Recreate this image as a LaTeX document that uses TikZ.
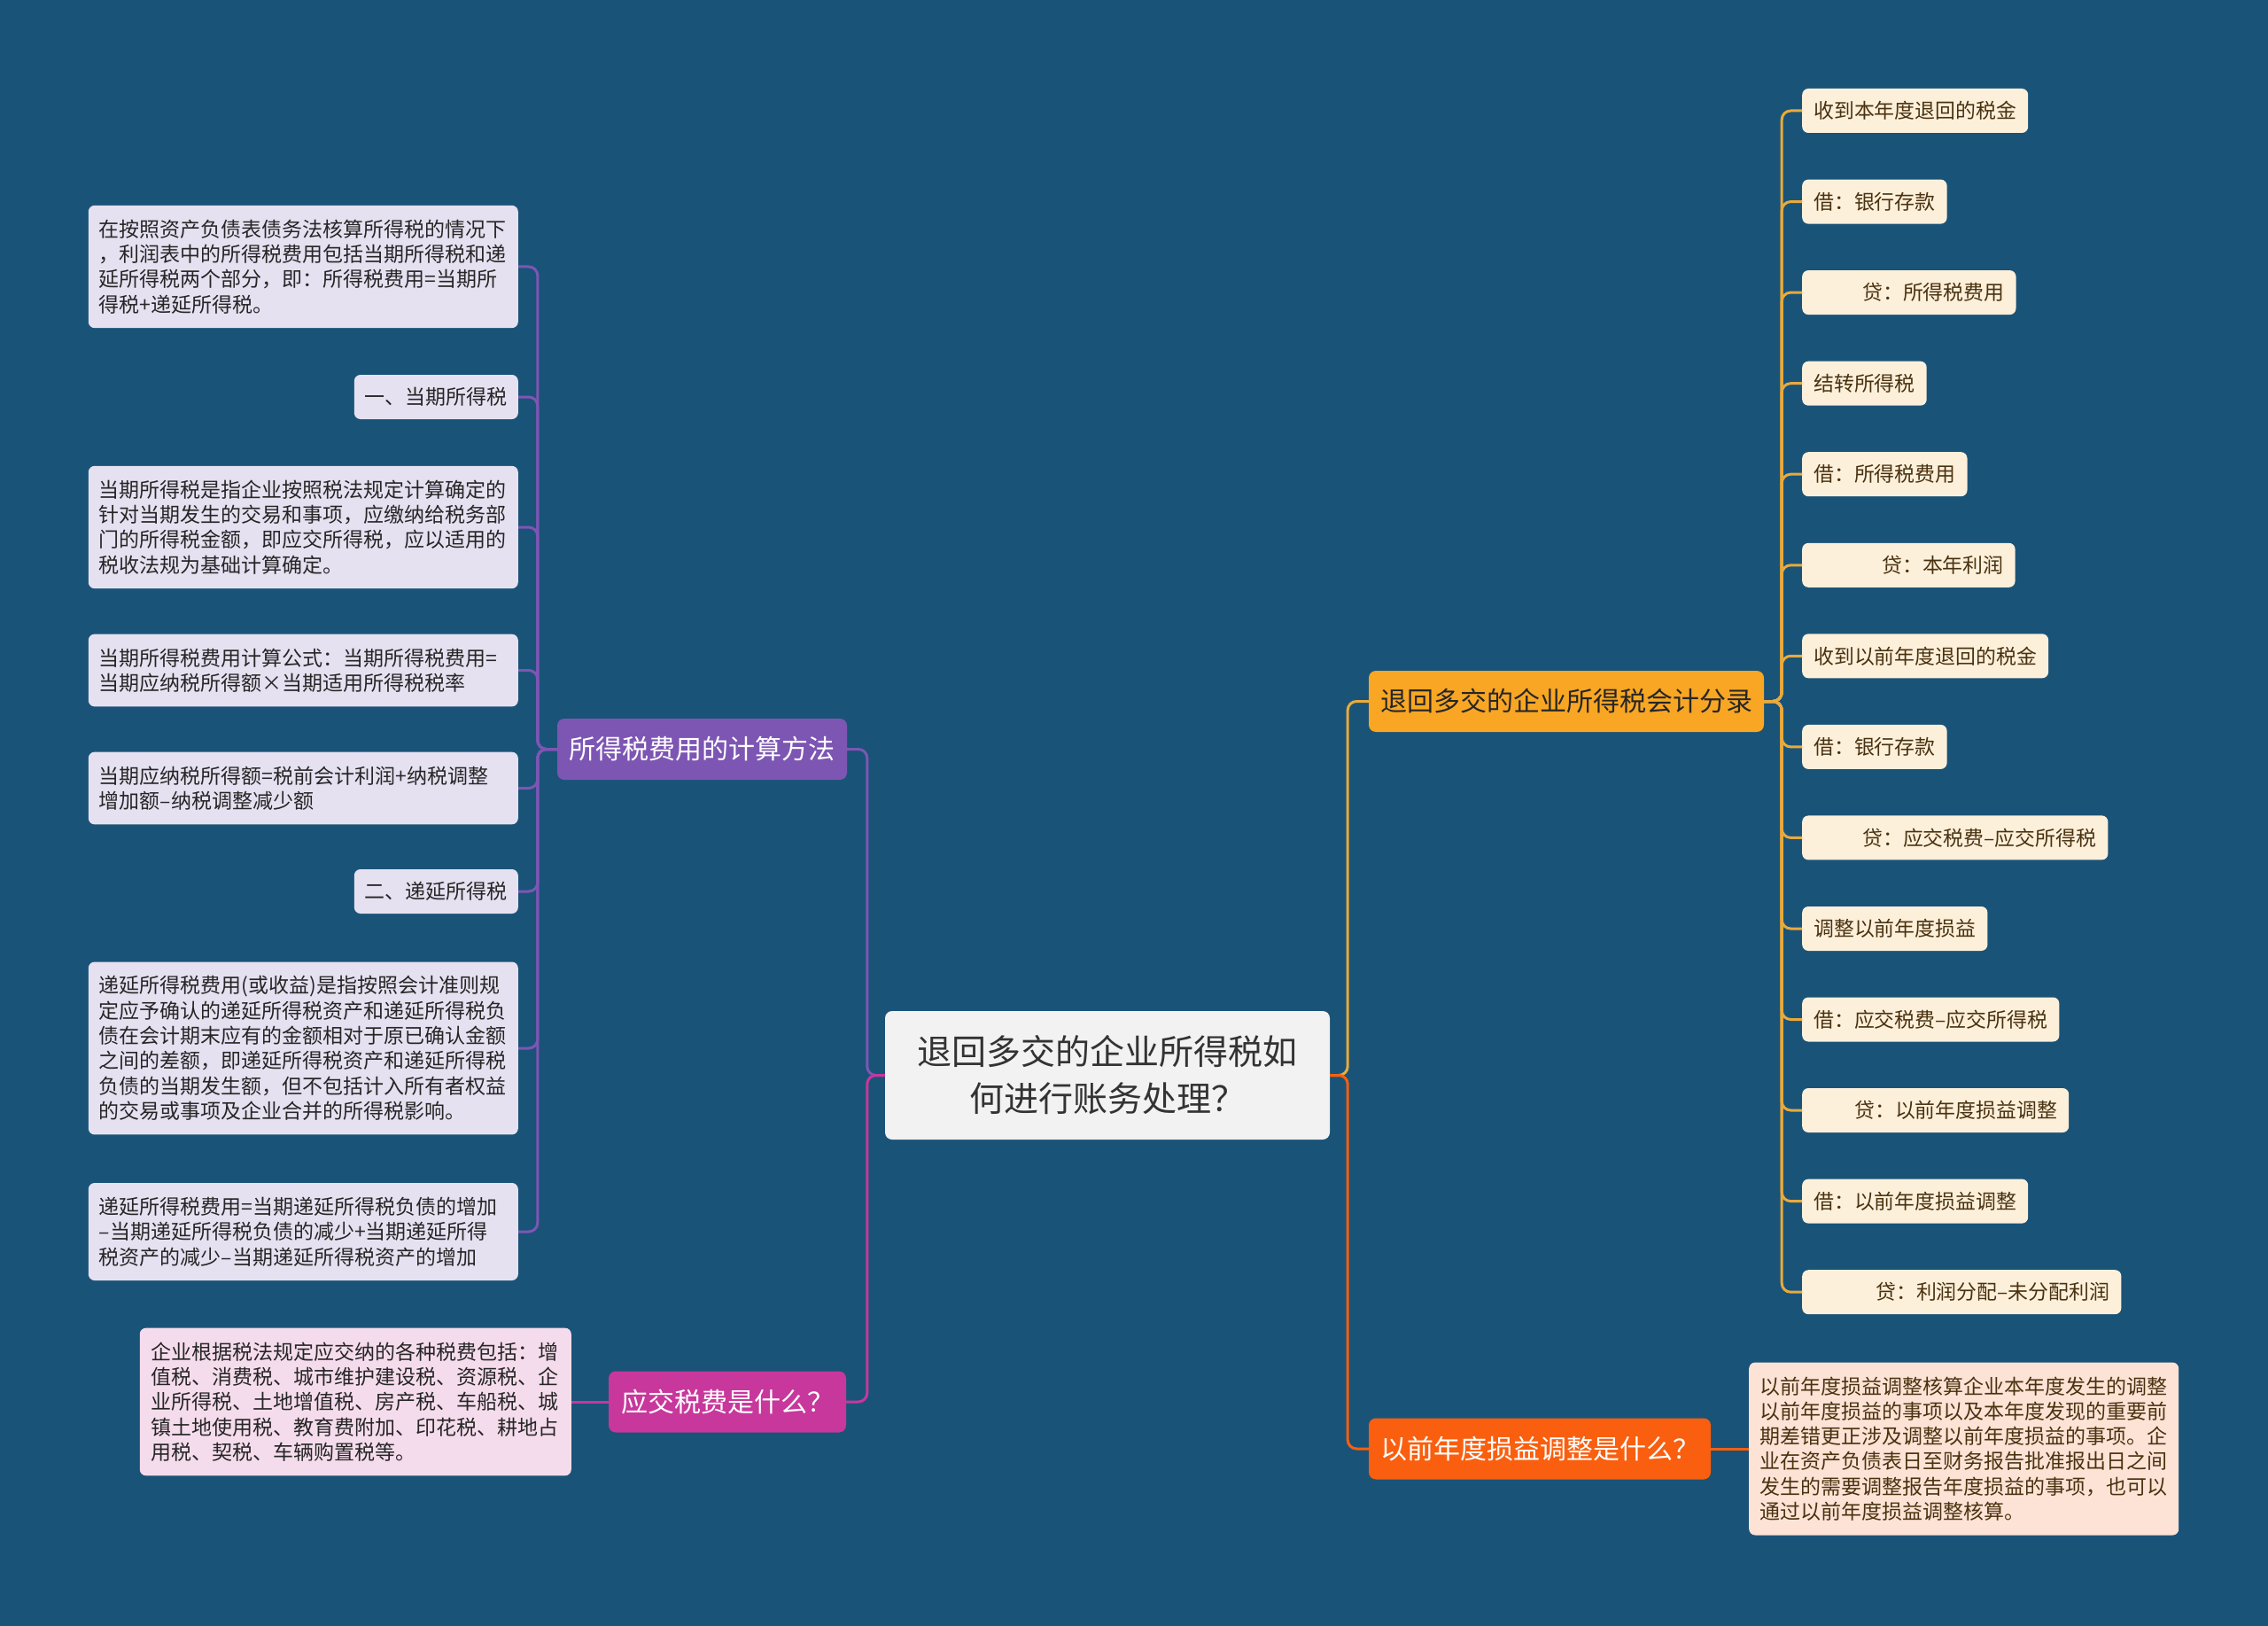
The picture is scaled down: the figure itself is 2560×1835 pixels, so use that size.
\documentclass[tikz,border=0pt]{standalone}
\usepackage{fontspec}
\newfontfamily\cjk{Noto Sans CJK SC}
\usepackage{xcolor}
\usepackage{tikz}
\definecolor{bgblue}{HTML}{1A5378}
\definecolor{rootfill}{HTML}{F2F2F2}
\definecolor{entryfill}{HTML}{F8A623}
\definecolor{adjfill}{HTML}{F95F0F}
\definecolor{calcfill}{HTML}{7D56B4}
\definecolor{taxfill}{HTML}{C8379C}
\definecolor{calcsub}{HTML}{E6E1F1}
\definecolor{taxsub}{HTML}{F5DCEC}
\definecolor{entrysub}{HTML}{FDF0DB}
\definecolor{adjsub}{HTML}{FDE3D6}
\definecolor{entryline}{HTML}{E9AA3C}
\definecolor{darkbrown}{HTML}{4A3210}

\tikzset{
  root/.style={
    fill=rootfill,
    text=black!80,
    rounded corners=8pt,
    minimum width=502pt,
    minimum height=145pt,
    align=center,
    font=\cjk\fontsize{39}{53}\selectfont
  },
  topic/.style={
    rounded corners=8pt,
    minimum height=69pt,
    inner xsep=13pt,
    align=center,
    text=white,
    font=\cjk\fontsize{30}{36}\selectfont
  },
  leaf/.style={
    rounded corners=7pt,
    inner xsep=12pt,
    inner ysep=16pt,
    anchor=east,
    text=black!85,
    font=\cjk\fontsize{23}{28.3}\selectfont
  },
  leafwide/.style={
    leaf,
    text width=461pt,
    align=left
  },
  leafshort/.style={
    leaf,
    minimum height=50pt,
    inner ysep=0pt
  },
  entrybox/.style={
    fill=entrysub,
    rounded corners=7pt,
    minimum height=50pt,
    inner xsep=13pt,
    anchor=west,
    text=darkbrown,
    font=\cjk\fontsize{22.9}{27}\selectfont
  },
  link/.style={
    line width=3pt,
    rounded corners=10pt
  }
}

\begin{document}
\begin{tikzpicture}[x=1pt,y=-1pt]
  \fill[bgblue] (0,0) rectangle (2560,1835);

  % centre and the four topics
  \node[root] (root) at (1250,1213.5) {退回多交的企业所得税如\\何进行账务处理？};
  \node[topic, fill=calcfill, minimum width=327pt] (calc) at (792.5,845.5) {所得税费用的计算方法};
  \node[topic, fill=taxfill, minimum width=268pt] (tax) at (821,1582) {应交税费是什么？};
  \node[topic, fill=entryfill, text=black!85, minimum width=446pt] (entry) at (1768,791.5) {退回多交的企业所得税会计分录};
  \node[topic, fill=adjfill, minimum width=386pt] (adj) at (1738,1635) {以前年度损益调整是什么？};

  % left: calculation
  \node[leafwide, fill=calcsub] (c1) at (585,301) {在按照资产负债表债务法核算所得税的情况下\\，利润表中的所得税费用包括当期所得税和递\\延所得税两个部分，即：所得税费用=当期所\\得税+递延所得税。};
  \node[leafshort, fill=calcsub] (c2) at (585,448) {一、当期所得税};
  \node[leafwide, fill=calcsub] (c3) at (585,595) {当期所得税是指企业按照税法规定计算确定的\\针对当期发生的交易和事项，应缴纳给税务部\\门的所得税金额，即应交所得税，应以适用的\\税收法规为基础计算确定。};
  \node[leafwide, fill=calcsub] (c4) at (585,756.5) {当期所得税费用计算公式：当期所得税费用=\\当期应纳税所得额×当期适用所得税税率};
  \node[leafwide, fill=calcsub] (c5) at (585,889.5) {当期应纳税所得额=税前会计利润+纳税调整\\增加额–纳税调整减少额};
  \node[leafshort, fill=calcsub] (c6) at (585,1006) {二、递延所得税};
  \node[leafwide, fill=calcsub] (c7) at (585,1183) {递延所得税费用(或收益)是指按照会计准则规\\定应予确认的递延所得税资产和递延所得税负\\债在会计期末应有的金额相对于原已确认金额\\之间的差额，即递延所得税资产和递延所得税\\负债的当期发生额，但不包括计入所有者权益\\的交易或事项及企业合并的所得税影响。};
  \node[leafwide, fill=calcsub] (c8) at (585,1390) {递延所得税费用=当期递延所得税负债的增加\\–当期递延所得税负债的减少+当期递延所得\\税资产的减少–当期递延所得税资产的增加};

  % left: taxes payable
  \node[leafwide, fill=taxsub, inner xsep=13pt] (t1) at (645,1582) {企业根据税法规定应交纳的各种税费包括：增\\值税、消费税、城市维护建设税、资源税、企\\业所得税、土地增值税、房产税、车船税、城\\镇土地使用税、教育费附加、印花税、耕地占\\用税、契税、车辆购置税等。};

  % right: journal entries
  \node[entrybox] (e1) at (2034,125) {收到本年度退回的税金};
  \node[entrybox] (e2) at (2034,227.6) {借：银行存款};
  \node[entrybox] (e3) at (2034,330.1) {\hspace*{55pt}贷：所得税费用};
  \node[entrybox] (e4) at (2034,432.7) {结转所得税};
  \node[entrybox] (e5) at (2034,535.2) {借：所得税费用};
  \node[entrybox] (e6) at (2034,637.8) {\hspace*{77pt}贷：本年利润};
  \node[entrybox] (e7) at (2034,740.3) {收到以前年度退回的税金};
  \node[entrybox] (e8) at (2034,842.9) {借：银行存款};
  \node[entrybox] (e9) at (2034,945.4) {\hspace*{55pt}贷：应交税费–应交所得税};
  \node[entrybox] (e10) at (2034,1048) {调整以前年度损益};
  \node[entrybox] (e11) at (2034,1150.5) {借：应交税费–应交所得税};
  \node[entrybox] (e12) at (2034,1253) {\hspace*{46pt}贷：以前年度损益调整};
  \node[entrybox] (e13) at (2034,1355.6) {借：以前年度损益调整};
  \node[entrybox] (e14) at (2034,1458.2) {\hspace*{70pt}贷：利润分配–未分配利润};

  % right: prior-year adjustment
  \node[leafwide, fill=adjsub, anchor=west, text=darkbrown] (a1) at (1974,1635) {以前年度损益调整核算企业本年度发生的调整\\以前年度损益的事项以及本年度发现的重要前\\期差错更正涉及调整以前年度损益的事项。企\\业在资产负债表日至财务报告批准报出日之间\\发生的需要调整报告年度损益的事项，也可以\\通过以前年度损益调整核算。};

  % connectors
  \draw[link, calcfill] (root.west) -- ++(-20,0) |- (calc.east);
  \draw[link, taxfill] (root.west) -- ++(-20,0) |- (tax.east);
  \draw[link, entryline] (root.east) -- ++(20,0) |- (entry.west);
  \draw[link, adjfill] (root.east) -- ++(20,0) |- (adj.west);

  \draw[link, calcfill] (calc.west) -- ++(-22,0) |- (c1.east);
  \draw[link, calcfill] (calc.west) -- ++(-22,0) |- (c2.east);
  \draw[link, calcfill] (calc.west) -- ++(-22,0) |- (c3.east);
  \draw[link, calcfill] (calc.west) -- ++(-22,0) |- (c4.east);
  \draw[link, calcfill] (calc.west) -- ++(-22,0) |- (c5.east);
  \draw[link, calcfill] (calc.west) -- ++(-22,0) |- (c6.east);
  \draw[link, calcfill] (calc.west) -- ++(-22,0) |- (c7.east);
  \draw[link, calcfill] (calc.west) -- ++(-22,0) |- (c8.east);

  \draw[link, taxfill] (tax.west) -- (t1.east);

  \draw[link, entryline] (entry.east) -- ++(20,0) |- (e1.west);
  \draw[link, entryline] (entry.east) -- ++(20,0) |- (e2.west);
  \draw[link, entryline] (entry.east) -- ++(20,0) |- (e3.west);
  \draw[link, entryline] (entry.east) -- ++(20,0) |- (e4.west);
  \draw[link, entryline] (entry.east) -- ++(20,0) |- (e5.west);
  \draw[link, entryline] (entry.east) -- ++(20,0) |- (e6.west);
  \draw[link, entryline] (entry.east) -- ++(20,0) |- (e7.west);
  \draw[link, entryline] (entry.east) -- ++(20,0) |- (e8.west);
  \draw[link, entryline] (entry.east) -- ++(20,0) |- (e9.west);
  \draw[link, entryline] (entry.east) -- ++(20,0) |- (e10.west);
  \draw[link, entryline] (entry.east) -- ++(20,0) |- (e11.west);
  \draw[link, entryline] (entry.east) -- ++(20,0) |- (e12.west);
  \draw[link, entryline] (entry.east) -- ++(20,0) |- (e13.west);
  \draw[link, entryline] (entry.east) -- ++(20,0) |- (e14.west);

  \draw[link, adjfill] (adj.east) -- (a1.west);
\end{tikzpicture}
\end{document}
